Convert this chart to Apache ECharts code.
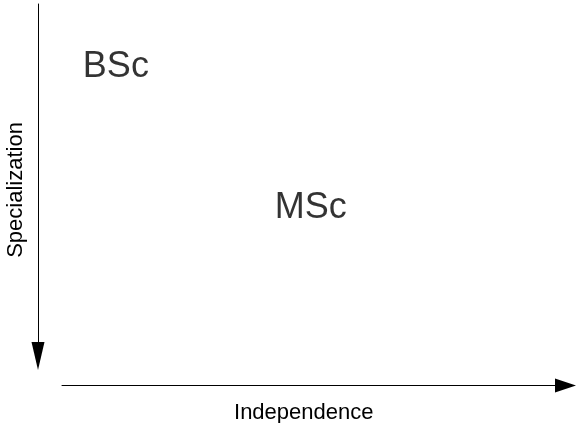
<!DOCTYPE html>
<html>
<head>
<meta charset="utf-8">
<script src="https://cdn.jsdelivr.net/npm/echarts@6/dist/echarts.min.js"></script>
<style>
  html, body { margin: 0; padding: 0; background: #fff; }
  #chart { width: 576px; height: 423px; }
</style>
</head>
<body>
<div id="chart"></div>
<script>
const degrees = ['BSc', 'MSc'];
const independence = [10.7, 49.4];
const specialization = [18.0, 58.1];

const font = 'Liberation Sans, Arial, Helvetica, sans-serif';

const chart = echarts.init(document.getElementById('chart'));
chart.setOption({
  animation: false,
  grid: {
    left: 62,
    right: 10.5,
    top: 4,
    bottom: 67,
    containLabel: false,
    outerBoundsMode: 'none',
  },
  xAxis: {
    type: 'value',
    min: 0,
    max: 100,
    offset: 29.5,
    name: 'Independence',
    nameLocation: 'middle',
    nameGap: 16,
    nameTextStyle: {
      color: '#000',
      fontFamily: font,
      fontSize: 22,
      padding: [0, 20, 0, 0],
    },
    axisLine: {
      show: true,
      onZero: false,
      symbol: ['none', 'triangle'],
      symbolSize: [14, 21],
      lineStyle: { color: '#000', width: 1 },
    },
    axisTick: { show: false },
    axisLabel: { show: false },
    splitLine: { show: false },
  },
  yAxis: {
    type: 'value',
    min: 0,
    max: 100,
    inverse: true,
    offset: 24,
    name: 'Specialization',
    nameLocation: 'middle',
    nameGap: 11,
    nameRotate: 90,
    nameTextStyle: {
      color: '#000',
      fontFamily: font,
      fontSize: 22,
      padding: [0, 20, 0, 0],
    },
    axisLine: {
      show: true,
      onZero: false,
      symbol: ['triangle', 'none'],
      symbolSize: [13, 28],
      lineStyle: { color: '#000', width: 1 },
    },
    axisTick: { show: false },
    axisLabel: { show: false },
    splitLine: { show: false },
  },
  series: [
    {
      type: 'scatter',
      symbolSize: 0,
      data: degrees.map((d, i) => ({ name: d, value: [independence[i], specialization[i]] })),
      label: {
        show: true,
        position: 'inside',
        formatter: '{b}',
        color: '#000',
        fontFamily: font,
        fontSize: 36,
      },
    },
  ],
});
</script>
</body>
</html>
